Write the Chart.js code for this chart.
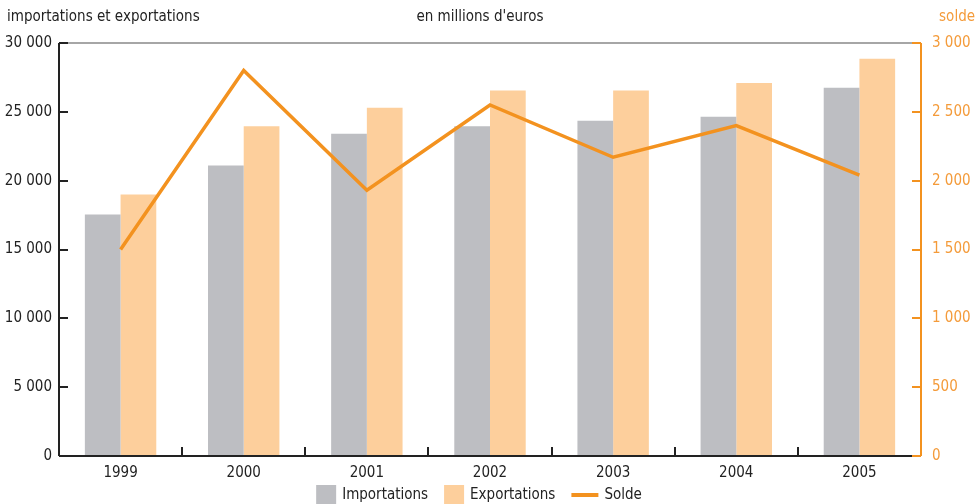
<!DOCTYPE html>
<html>
<head>
<meta charset="utf-8">
<script src="https://cdn.jsdelivr.net/npm/chart.js@4.4.1/dist/chart.umd.min.js"></script>
<style>
  html, body { margin: 0; padding: 0; background: #fff; }
  #wrap { width: 977px; height: 504px; position: relative; }
</style>
</head>
<body>
<div id="wrap"><canvas id="chart" width="977" height="504"></canvas></div>
<script>
// data
const years = ['1999', '2000', '2001', '2002', '2003', '2004', '2005'];
const importations = [17550, 21100, 23400, 23950, 24350, 24650, 26750];
const exportations = [19000, 23950, 25300, 26550, 26550, 27100, 28850];
const solde = [1500, 2800, 1930, 2550, 2170, 2400, 2040];
const leftTicks = [0, 5000, 10000, 15000, 20000, 25000, 30000];
const rightTicks = [0, 500, 1000, 1500, 2000, 2500, 3000];

const FONT = '"Liberation Sans Narrow", "DejaVu Sans Condensed", "Roboto Condensed", sans-serif';
const GREY = '#bdbec2';
const PEACH = '#fdcf9c';
const ORANGE = '#f3921f';
const ORANGE_TXT = '#f49b3a';

Chart.defaults.font.family = FONT;
Chart.defaults.font.size = 15;
Chart.defaults.color = '#222';

// french thousands separator
function fmt(v) {
  return String(v).replace(/\B(?=(\d{3})+(?!\d))/g, ' ');
}

// axis lines, inward ticks, top border, header texts and legend
const decor = {
  id: 'decor',
  afterDatasetsDraw(chart) {
    const ctx = chart.ctx;
    const a = chart.chartArea;
    const x = chart.scales.x, y = chart.scales.y, y2 = chart.scales.y2;
    ctx.save();
    // top border
    ctx.strokeStyle = '#a6a6a6';
    ctx.lineWidth = 2;
    ctx.beginPath(); ctx.moveTo(a.left, a.top); ctx.lineTo(a.right, a.top); ctx.stroke();
    // left axis
    ctx.strokeStyle = '#222';
    ctx.beginPath(); ctx.moveTo(a.left, a.top); ctx.lineTo(a.left, a.bottom); ctx.stroke();
    leftTicks.forEach(v => {
      const py = Math.round(y.getPixelForValue(v));
      ctx.beginPath(); ctx.moveTo(a.left, py); ctx.lineTo(a.left + 9, py); ctx.stroke();
    });
    // bottom axis
    ctx.beginPath(); ctx.moveTo(a.left, a.bottom); ctx.lineTo(a.right, a.bottom); ctx.stroke();
    const step = x.getPixelForValue(1) - x.getPixelForValue(0);
    for (let i = 0; i <= years.length; i++) {
      const px = Math.round(x.getPixelForValue(i) - step / 2);
      ctx.beginPath(); ctx.moveTo(px, a.bottom); ctx.lineTo(px, a.bottom - 9); ctx.stroke();
    }
    // right axis
    ctx.strokeStyle = ORANGE;
    ctx.beginPath(); ctx.moveTo(a.right, a.top); ctx.lineTo(a.right, a.bottom); ctx.stroke();
    rightTicks.forEach(v => {
      const py = Math.round(y2.getPixelForValue(v));
      ctx.beginPath(); ctx.moveTo(a.right, py); ctx.lineTo(a.right - 9, py); ctx.stroke();
    });
    // header texts
    ctx.font = '15px ' + FONT;
    ctx.textBaseline = 'middle';
    ctx.fillStyle = '#222';
    ctx.textAlign = 'left';
    ctx.fillText('importations et exportations', 7, 17);
    ctx.textAlign = 'center';
    ctx.fillText("en millions d'euros", 480, 17);
    ctx.fillStyle = ORANGE_TXT;
    ctx.textAlign = 'right';
    ctx.fillText('solde', 975, 17);

    // legend along the bottom
    const items = [
      { text: 'Importations', kind: 'box', color: GREY },
      { text: 'Exportations', kind: 'box', color: PEACH },
      { text: 'Solde', kind: 'line', color: ORANGE }
    ];
    ctx.textAlign = 'left';
    const ly = 495;
    let total = 0;
    items.forEach((it, i) => {
      it.w = ctx.measureText(it.text).width;
      total += (it.kind === 'box' ? 20 + 6 : 27 + 6) + it.w + (i < items.length - 1 ? 16 : 0);
    });
    let lx = 479 - total / 2;
    items.forEach(it => {
      if (it.kind === 'box') {
        ctx.fillStyle = it.color;
        ctx.fillRect(lx, ly - 10, 20, 20);
        lx += 26;
      } else {
        ctx.strokeStyle = it.color;
        ctx.lineWidth = 4;
        ctx.beginPath(); ctx.moveTo(lx, ly); ctx.lineTo(lx + 27, ly); ctx.stroke();
        lx += 33;
      }
      ctx.fillStyle = '#222';
      ctx.fillText(it.text, lx, ly);
      lx += it.w + 16;
    });
    ctx.restore();
  }
};

new Chart(document.getElementById('chart'), {
  data: {
    labels: years,
    datasets: [
      { type: 'line', label: 'Solde', data: solde, yAxisID: 'y2',
        borderColor: ORANGE, backgroundColor: ORANGE, borderWidth: 3.5,
        pointRadius: 0, tension: 0, order: 0 },
      { type: 'bar', label: 'Importations', data: importations, yAxisID: 'y',
        backgroundColor: GREY, order: 1 },
      { type: 'bar', label: 'Exportations', data: exportations, yAxisID: 'y',
        backgroundColor: PEACH, order: 1 }
    ]
  },
  plugins: [decor],
  options: {
    responsive: false,
    animation: false,
    layout: { padding: { top: 43, left: 0, right: 0, bottom: 0 } },
    datasets: { bar: { categoryPercentage: 0.58, barPercentage: 1 } },
    scales: {
      x: {
        grid: { display: false, drawTicks: false },
        border: { display: false },
        ticks: { padding: 8, color: '#222' },
        afterFit(s) { s.height = 48; }
      },
      y: {
        position: 'left', min: 0, max: 30000,
        afterBuildTicks(s) { s.ticks = leftTicks.map(v => ({ value: v })); },
        grid: { display: false, drawTicks: false },
        border: { display: false },
        ticks: { padding: 7, color: '#222', callback: v => fmt(v) },
        afterFit(s) { s.width = 59; }
      },
      y2: {
        position: 'right', min: 0, max: 3000,
        afterBuildTicks(s) { s.ticks = rightTicks.map(v => ({ value: v })); },
        grid: { display: false, drawTicks: false },
        border: { display: false },
        ticks: { padding: 11, color: ORANGE_TXT, callback: v => fmt(v) },
        afterFit(s) { s.width = 56; }
      }
    },
    plugins: {
      tooltip: { enabled: false },
      legend: { display: false }
    }
  }
});
</script>
</body>
</html>
